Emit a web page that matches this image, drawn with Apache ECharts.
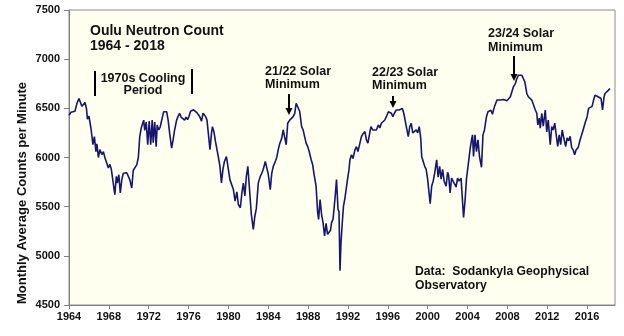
<!DOCTYPE html>
<html>
<head>
<meta charset="utf-8">
<script src="https://cdn.jsdelivr.net/npm/echarts@6/dist/echarts.min.js"></script>
<style>html,body{margin:0;padding:0;background:#fff;}#c{width:624px;height:336px;}</style>
</head>
<body>
<div id="c"></div>
<script>
var years = [
1964.00,1964.2,1964.4,1964.6,1964.8,1965.0,1965.1,1965.3,1965.45,1965.6,1965.75,1965.85,1966.0,1966.2,1966.3,1966.4,1966.55,1966.7,1966.8,1966.95,
1967.1,1967.3,1967.45,1967.6,1967.75,1967.95,1968.1,1968.25,1968.4,1968.6,1968.75,1968.85,1969.0,1969.15,1969.3,1969.45,1969.65,1969.8,1969.95,
1970.1,1970.3,1970.45,1970.6,1970.8,1970.96,1971.1,1971.25,1971.5,1971.6,1971.75,1971.9,1972.05,1972.2,1972.35,1972.45,1972.6,1972.75,1972.85,
1973.0,1973.15,1973.3,1973.5,1973.65,1973.8,1973.95,1974.1,1974.3,1974.45,1974.6,1974.8,1974.95,1975.1,1975.25,1975.4,1975.6,1975.75,1975.9,
1976.05,1976.2,1976.5,1976.65,1976.8,1976.95,1977.1,1977.3,1977.45,1977.55,1977.7,1977.85,1978.0,1978.15,1978.3,1978.4,1978.55,1978.7,1978.85,
1979.0,1979.15,1979.3,1979.45,1979.6,1979.8,1979.95,1980.15,1980.3,1980.5,1980.67,1980.85,1981.0,1981.2,1981.35,1981.5,1981.65,1981.8,1981.95,
1982.1,1982.3,1982.5,1982.65,1982.8,1983.0,1983.2,1983.35,1983.5,1983.7,1983.85,1984.0,1984.2,1984.35,1984.5,1984.65,1984.85,
1985.0,1985.15,1985.35,1985.5,1985.65,1985.8,1985.95,1986.15,1986.3,1986.5,1986.65,1986.8,1987.0,1987.15,1987.35,1987.5,1987.65,1987.8,1987.95,
1988.1,1988.3,1988.45,1988.6,1988.8,1988.95,1989.05,1989.2,1989.35,1989.5,1989.65,1989.8,1989.95,1990.1,1990.25,1990.35,1990.5,1990.7,1990.85,
1991.0,1991.1,1991.2,1991.3,1991.45,1991.55,1991.7,1991.85,1991.95,1992.1,1992.2,1992.35,1992.5,1992.7,1992.85,1993.0,1993.2,1993.35,1993.5,1993.7,1993.85,
1994.0,1994.15,1994.3,1994.5,1994.65,1994.85,1995.05,1995.2,1995.35,1995.5,1995.7,1995.85,1996.05,1996.2,1996.35,1996.5,1996.65,1996.85,
1997.0,1997.15,1997.3,1997.45,1997.6,1997.8,1998.05,1998.2,1998.35,1998.5,1998.7,1998.85,1999.0,1999.15,1999.3,1999.4,1999.55,1999.7,1999.85,
2000.0,2000.25,2000.4,2000.55,2000.7,2000.9,2001.05,2001.2,2001.35,2001.5,2001.65,2001.85,2002.0,2002.1,2002.25,2002.4,2002.55,2002.7,2002.85,
2003.0,2003.15,2003.35,2003.6,2003.75,2003.9,2004.05,2004.25,2004.4,2004.5,2004.6,2004.75,2004.9,2005.05,2005.2,2005.4,2005.55,2005.7,2005.9,
2006.05,2006.2,2006.35,2006.5,2006.7,2006.95,2007.1,2007.3,2007.45,2007.6,2007.8,2007.95,2008.1,2008.3,2008.45,2008.6,2008.8,2008.95,
2009.1,2009.3,2009.45,2009.6,2009.75,2009.95,2010.1,2010.3,2010.45,2010.6,2010.8,2010.95,2011.05,2011.2,2011.3,2011.45,2011.6,2011.8,2011.95,
2012.1,2012.3,2012.45,2012.6,2012.75,2012.9,2013.05,2013.2,2013.35,2013.5,2013.7,2013.85,2014.0,2014.15,2014.3,2014.45,2014.6,2014.75,2014.9,
2015.1,2015.3,2015.45,2015.6,2015.8,2016.0,2016.15,2016.3,2016.5,2016.65,2016.8,2016.95,2017.1,2017.25,2017.4,2017.55,2017.7,2017.8,
2018.0,2018.15,2018.3
];
var counts = [
6430,6460,6480,6470,6550,6600,6617,6520,6540,6560,6500,6390,6420,6300,6280,6130,6213,6060,6140,6000,
6080,6030,6060,6000,6010,5893,5930,5880,5900,5623,5808,5740,5825,5640,5775,5840,5859,5845,5850,
5775,5690,5870,5855,5925,6000,6213,6300,6380,6275,6360,6130,6370,6130,6380,6150,6360,6110,6330,
6280,6310,6310,6466,6480,6466,6380,6247,6095,6180,6280,6380,6420,6450,6410,6400,6380,6410,6385,
6420,6470,6485,6480,6460,6450,6420,6370,6450,6466,6420,6380,6230,6080,6247,6314,6260,6163,6150,
6000,5910,5742,5880,5960,6010,5910,5775,5760,5674,5556,5650,5522,5489,5640,5740,5610,5808,5910,
5700,5421,5270,5400,5480,5742,5808,5840,5880,5960,5980,5830,5674,5840,5910,5945,6000,
6080,6140,6197,6280,6300,6130,6348,6380,6395,6415,6447,6550,6567,6470,6314,6280,6213,6146,6113,
6063,5980,5930,5826,5708,5450,5370,5573,5420,5337,5202,5330,5219,5202,5260,5337,5370,5590,5775,
5472,5450,4848,5135,5370,5505,5590,5607,5775,5876,5977,6027,5990,6078,6110,6060,6146,6213,6240,6264,6180,
6146,6230,6314,6280,6300,6280,6331,6300,6348,6350,6381,6415,6466,6466,6450,6415,6450,6483,
6475,6483,6483,6500,6450,6466,6213,6314,6348,6250,6230,6280,6250,6314,6200,6010,5960,5910,5880,
5775,5530,5707,5760,5840,5977,5800,5910,5780,5880,5760,5708,5850,5820,5640,5790,5760,5775,5700,
5790,5760,5790,5390,5560,5790,5910,6080,6180,6230,6010,6230,6060,6180,6010,5900,6230,6280,6415,
6466,6450,6480,6440,6517,6584,6600,6584,6600,6590,6584,6578,6584,6618,6668,6718,6752,6803,
6836,6820,6836,6837,6770,6651,6618,6600,6584,6570,6483,6450,6331,6400,6298,6450,6320,6483,6260,
6380,6130,6314,6280,6350,6330,6112,6230,6130,6280,6180,6112,6200,6170,6215,6100,6078,6028,6078,
6100,6180,6200,6280,6350,6415,6500,6480,6520,6584,6634,6651,6618,6634,6600,6483,6618,6651,
6668,6685,6702
];
var yTicks = [4500, 5000, 5500, 6000, 6500, 7000, 7500];
var xTickYears = [1964, 1968, 1972, 1976, 1980, 1984, 1988, 1992, 1996, 2000, 2004, 2008, 2012, 2016];

var seriesData = years.map(function (y, i) { return [y, counts[i]]; });

var FONT = '"Liberation Sans", Arial, sans-serif';
var chart = echarts.init(document.getElementById('c'), null, {renderer: 'canvas'});

function arrow(x, y1, y2) {
  return [
    {type: 'line', shape: {x1: x, y1: y1, x2: x, y2: y2 - 5}, style: {stroke: '#000', lineWidth: 2}, z: 100},
    {type: 'polygon', shape: {points: [[x - 3.5, y2 - 7], [x + 3.5, y2 - 7], [x, y2]]}, style: {fill: '#000'}, z: 100}
  ];
}
function txt(s, x, y, size, align) {
  return {type: 'text', x: x, y: y, z: 100,
    style: {text: s, font: 'bold ' + size + 'px ' + FONT, fill: '#111', align: align || 'left', verticalAlign: 'middle'}};
}

var graphics = [
  txt('Oulu Neutron Count', 90, 31, 14),
  txt('1964 - 2018', 90, 46, 14),
  txt('1970s Cooling', 143, 79, 12.5, 'center'),
  txt('Period', 143, 91, 12.5, 'center'),
  {type: 'line', shape: {x1: 95, y1: 71, x2: 95, y2: 96}, style: {stroke: '#000', lineWidth: 2}, z: 100},
  {type: 'line', shape: {x1: 192, y1: 69, x2: 192, y2: 94}, style: {stroke: '#000', lineWidth: 2}, z: 100},
  txt('21/22 Solar', 265, 72, 12.5),
  txt('Minimum', 265, 85, 12.5),
  txt('22/23 Solar', 372, 73, 12.5),
  txt('Minimum', 372, 86, 12.5),
  txt('23/24 Solar', 488, 34, 12.5),
  txt('Minimum', 488, 48, 12.5),
  txt('Data:  Sodankyla Geophysical', 415, 272, 12.2),
  txt('Observatory', 415, 286, 12.2),
  {type: 'text', x: 22, y: 193, rotation: Math.PI / 2, z: 100,
    style: {text: 'Monthly Average Counts per Minute', font: 'bold 13px ' + FONT, fill: '#111', align: 'center', verticalAlign: 'middle'}}
].concat(arrow(289, 94, 115), arrow(393, 96, 108), arrow(514, 56, 81));

chart.setOption({
  animation: false,
  backgroundColor: '#ffffff',
  grid: {left: 69, right: 9, top: 10, bottom: 31, show: true, backgroundColor: '#FFFFF0', borderColor: '#8c8c8c', borderWidth: 1, containLabel: false},
  xAxis: {
    type: 'value', min: 1964, max: 2018.8, interval: 4,
    axisLine: {show: true, lineStyle: {color: '#808080', width: 1}},
    axisTick: {show: true, inside: false, length: 4, lineStyle: {color: '#808080'}},
    splitLine: {show: false},
    axisLabel: {show: true, margin: 6, color: '#111', fontWeight: 'bold', fontSize: 11, fontFamily: FONT,
      showMaxLabel: false, showMinLabel: true,
      formatter: function (v) { return xTickYears.indexOf(v) >= 0 ? String(v) : ''; }}
  },
  yAxis: {
    type: 'value', min: yTicks[0], max: yTicks[yTicks.length - 1], interval: 500,
    axisLine: {show: true, lineStyle: {color: '#808080', width: 1}},
    axisTick: {show: true, inside: false, length: 5, lineStyle: {color: '#808080'}},
    splitLine: {show: false},
    axisLabel: {show: true, margin: 9, color: '#111', fontWeight: 'bold', fontSize: 11, fontFamily: FONT,
      showMaxLabel: true, showMinLabel: true,
      formatter: function (v) { return yTicks.indexOf(v) >= 0 ? String(v) : ''; }}
  },
  series: [{
    type: 'line', data: seriesData, showSymbol: false, symbol: 'none',
    lineStyle: {color: '#16166e', width: 1.6}, z: 10
  }],
  graphic: graphics
});
</script>
</body>
</html>
